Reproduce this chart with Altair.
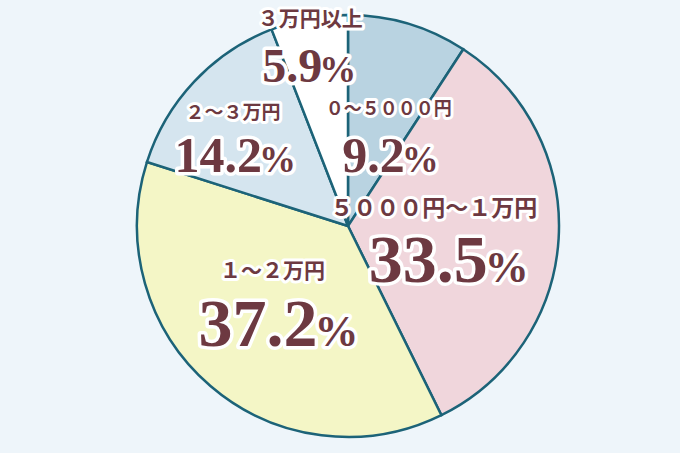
import altair as alt
import pandas as pd

categories = ["0～5000円", "5000円～1万円", "1～2万円", "2～3万円", "3万円以上"]
labels = ["０～５０００円", "５０００円～１万円", "１～２万円", "２～３万円", "３万円以上"]
shares = [9.2, 33.5, 37.2, 14.2, 5.9]
colors = ["#b9d3e1", "#f0d6dc", "#f4f6c6", "#d5e5ef", "#ffffff"]

df = pd.DataFrame({"idx": list(range(len(categories))), "category": categories,
                   "label": labels, "share": shares})

CX, CY, R = 348, 226, 211
MAROON = "#6d3941"
THETA_SCALE = alt.Scale(domain=[0, 100])

# per-slice label layout: anchor radius, label offset/size, number junction offset, sizes
layout = {
    0: dict(r=97, ldx=13, ldy=-23, lsize=18, ndx=29, ndy=39, nsize=50, psize=37),
    1: dict(r=93, ldx=-7, ldy=-23, lsize=23, ndx=47, ndy=50, nsize=68, psize=44),
    2: dict(r=105, ldx=-7, ldy=-34, lsize=21, ndx=38, ndy=40, nsize=68, psize=44),
    3: dict(r=140, ldx=-13, ldy=-17, lsize=19, ndx=16, ndy=42, nsize=50, psize=37),
    4: dict(r=183, ldx=-4, ldy=-26, lsize=21, ndx=8, ndy=36, nsize=48, psize=37),
}

pie = alt.Chart(df).mark_arc(outerRadius=R, stroke="#1c6378", strokeWidth=2.5).encode(
    theta=alt.Theta("share:Q", stack=True, scale=THETA_SCALE),
    order=alt.Order("idx:Q"),
    color=alt.Color("category:N", scale=alt.Scale(domain=categories, range=colors), legend=None),
    x=alt.value(CX),
    y=alt.value(CY),
)


def slice_base(i):
    return (
        alt.Chart(df)
        .transform_window(cum="sum(share)", sort=[alt.SortField("idx")])
        .transform_calculate(mid="datum.cum - datum.share / 2")
        .transform_filter(alt.datum.idx == i)
    )


layers = [pie]
for i, L in layout.items():
    enc = dict(theta=alt.Theta("mid:Q", scale=THETA_SCALE), x=alt.value(CX), y=alt.value(CY))
    for halo in (True, False):
        style = dict(fill="white", stroke="white", strokeWidth=6, strokeJoin="round") if halo else dict(fill=MAROON)
        # category label
        layers.append(
            slice_base(i).mark_text(radius=L["r"], dx=L["ldx"], dy=L["ldy"], align="center",
                                    baseline="middle", font="Noto Sans CJK JP", fontWeight="bold",
                                    fontSize=L["lsize"], **style)
            .encode(text="label:N", **enc)
        )
        nstyle = dict(style)
        if halo:
            nstyle["strokeWidth"] = 7
        # percentage number
        layers.append(
            slice_base(i).mark_text(radius=L["r"], dx=L["ndx"], dy=L["ndy"], align="right",
                                    baseline="alphabetic", font="Liberation Serif", fontWeight="bold",
                                    fontSize=L["nsize"], **nstyle)
            .encode(text=alt.Text("share:Q", format=".1f"), **enc)
        )
        layers.append(
            slice_base(i).mark_text(radius=L["r"], dx=L["ndx"] - 3, dy=L["ndy"], align="left",
                                    baseline="alphabetic", font="Liberation Serif", fontWeight="bold",
                                    fontSize=L["psize"], **nstyle)
            .encode(text=alt.value("%"), **enc)
        )

chart = (
    alt.layer(*layers)
    .properties(width=680, height=453, padding=0, autosize=alt.AutoSizeParams(type="none"),
                background="#eef5fa")
    .configure_view(stroke=None)
)

chart.save("out.html", embed_options={"renderer": "svg", "actions": False})
